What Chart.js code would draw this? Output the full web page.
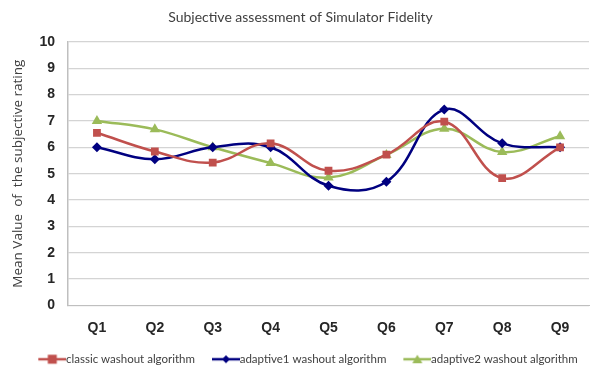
<!DOCTYPE html>
<html>
<head>
<meta charset="utf-8">
<script src="https://cdn.jsdelivr.net/npm/chart.js@4.4.1/dist/chart.umd.min.js"></script>
<style>
  html, body { margin: 0; padding: 0; background: #fff; }
  #wrap { width: 595px; height: 371px; position: relative; }
</style>
</head>
<body>
<div id="wrap"><canvas id="fidelity"></canvas></div>
<script>
// ── Data ─────────────────────────────────────────────────────
const questions  = ['Q1', 'Q2', 'Q3', 'Q4', 'Q5', 'Q6', 'Q7', 'Q8', 'Q9'];
const classic    = [6.55, 5.84, 5.42, 6.15, 5.11, 5.72, 6.97, 4.83, 6.0];
const adaptive1  = [6.0, 5.55, 6.0, 6.0, 4.54, 4.69, 7.43, 6.15, 6.0];
const adaptive2  = [7.0, 6.68, 6.0, 5.4, 4.85, 5.71, 6.7, 5.82, 6.42];
const yTicks     = [0, 1, 2, 3, 4, 5, 6, 7, 8, 9, 10];

const RED   = '#c0504d';
const BLUE  = '#000080';
const GREEN = '#9bbb59';

// legend swatch: short line with the series marker in the middle,
// line sits at the right edge so it runs into the label text
const BOX_W = 37;
function swatch(color, shape) {
  const c = document.createElement('canvas');
  const w = BOX_W + 12;
  c.width = w; c.height = 12;
  const g = c.getContext('2d');
  const x0 = w - 28, mid = x0 + 14;
  g.strokeStyle = color; g.fillStyle = color; g.lineWidth = 2.5;
  g.beginPath(); g.moveTo(x0, 6); g.lineTo(w, 6); g.stroke();
  g.beginPath();
  if (shape === 'rect') g.rect(mid - 4.5, 1.5, 9, 9);
  else if (shape === 'rectRot') { g.moveTo(mid, 2); g.lineTo(mid + 4, 6); g.lineTo(mid, 10); g.lineTo(mid - 4, 6); g.closePath(); }
  else { g.moveTo(mid, 1.5); g.lineTo(mid + 5, 10); g.lineTo(mid - 5, 10); g.closePath(); }
  g.fill();
  return c;
}

const series = [
  { label: 'classic washout algorithm',   data: classic,   color: RED,   shape: 'rect',     r: 5.5 },
  { label: 'adaptive1 washout algorithm', data: adaptive1, color: BLUE,  shape: 'rectRot',  r: 5 },
  { label: 'adaptive2 washout algorithm', data: adaptive2, color: GREEN, shape: 'triangle', r: 6 },
];

new Chart(document.getElementById('fidelity'), {
  type: 'line',
  data: {
    labels: questions,
    datasets: series.map(s => ({
      label: s.label,
      data: s.data,
      borderColor: s.color,
      backgroundColor: s.color,
      borderWidth: 2.5,
      tension: 0.4,
      pointStyle: s.shape,
      pointRadius: s.r,
      pointBorderWidth: 0,
      fill: false,
      swatch: swatch(s.color, s.shape),
    })),
  },
  options: {
    responsive: true,
    maintainAspectRatio: false,
    animation: false,
    layout: { padding: { left: 6, right: 0, top: 0, bottom: -4 } },
    plugins: {
      title: {
        display: true,
        text: 'Subjective assessment of Simulator Fidelity',
        color: '#404040',
        font: { family: 'Lato', size: 14, weight: 'normal' },
        padding: { top: 9, bottom: 16 },
      },
      legend: {
        position: 'bottom',
        labels: {
          usePointStyle: true,
          pointStyleWidth: BOX_W,
          color: '#404040',
          font: { family: 'Lato', size: 11.5 },
          padding: 2,
          generateLabels: chart => chart.data.datasets.map((d, i) => ({
            text: d.label,
            pointStyle: d.swatch,
            fillStyle: d.borderColor,
            strokeStyle: d.borderColor,
            fontColor: '#404040',
            lineWidth: 0,
            hidden: false,
            datasetIndex: i,
          })),
        },
      },
      tooltip: { enabled: false },
    },
    scales: {
      x: {
        offset: true,
        grid: { display: false, drawTicks: false },
        border: { color: '#bfbfbf', width: 1 },
        ticks: { color: '#262626', font: { family: 'Liberation Sans', size: 14, weight: 'bold' }, padding: 14 },
        afterFit: s => { s.height = 46; },
      },
      y: {
        min: 0,
        max: 10,
        afterBuildTicks: s => { s.ticks = yTicks.map(v => ({ value: v })); },
        grid: { color: '#d4d4d4', lineWidth: 1.3, drawTicks: false },
        border: { color: '#bfbfbf', width: 1.5 },
        ticks: { color: '#262626', font: { family: 'Liberation Sans', size: 14, weight: 'bold' }, padding: 13 },
        title: {
          display: true,
          text: 'Mean Value  of  the subjective rating',
          color: '#404040',
          font: { family: 'Open Sans', size: 13.5 },
          padding: { top: 4, bottom: 10 },
        },
        afterFit: s => { s.width = 62; },
      },
    },
  },
});
</script>
</body>
</html>
